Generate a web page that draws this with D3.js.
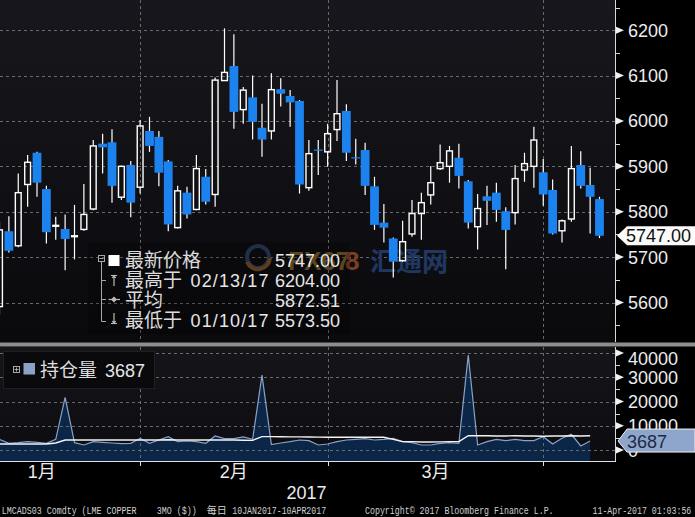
<!DOCTYPE html>
<html><head><meta charset="utf-8">
<script src="https://cdn.jsdelivr.net/npm/d3@7"></script>
<style>
html,body{margin:0;padding:0;background:#000;}
svg{display:block;}
</style></head>
<body>
<svg id="c" width="695" height="517"></svg>
<script>
// ---------------- DATA ----------------
const dates = [
 "2017-01-10","2017-01-11","2017-01-12","2017-01-13","2017-01-16","2017-01-17","2017-01-18","2017-01-19","2017-01-20",
 "2017-01-23","2017-01-24","2017-01-25","2017-01-26","2017-01-27","2017-01-30","2017-01-31",
 "2017-02-01","2017-02-02","2017-02-03","2017-02-06","2017-02-07","2017-02-08","2017-02-09","2017-02-10",
 "2017-02-13","2017-02-14","2017-02-15","2017-02-16","2017-02-17","2017-02-20","2017-02-21","2017-02-22",
 "2017-02-23","2017-02-24","2017-02-27","2017-02-28",
 "2017-03-01","2017-03-02","2017-03-03","2017-03-06","2017-03-07","2017-03-08","2017-03-09","2017-03-10",
 "2017-03-13","2017-03-14","2017-03-15","2017-03-16","2017-03-17","2017-03-20","2017-03-21","2017-03-22",
 "2017-03-23","2017-03-24","2017-03-27","2017-03-28","2017-03-29","2017-03-30","2017-03-31",
 "2017-04-03","2017-04-04","2017-04-05","2017-04-06","2017-04-07","2017-04-10"
];
const open  = [5591,5757,5725,5860,5930,5850,5768,5762,5745,5761,5806,5950,5953,5832,5903,5854,
               5978,5965,5911,5765,5842,5805,5877,5838,6089,6121,6025,6052,5985,5978,6070,6055,6044,5853,5937,5932,
               5981,6022,5920,5936,5856,5776,5741,5692,5751,5796,5837,5895,5900,5919,5867,5767,5834,5842,5801,5798,5892,5900,5887,
               5848,5758,5784,5903,5859,5828];
const high  = [5778,5790,5884,5925,5932,5857,5789,5794,5815,5861,5958,5972,5982,5902,5912,6002,
               6009,5978,5914,5857,5855,5925,5894,6096,6204,6191,6075,6100,6038,6105,6094,6068,6046,5958,5958,5994,
               6090,6037,5961,5952,5877,5817,5743,5780,5826,5842,5901,5948,5945,5950,5870,5839,5857,5864,5810,5903,5930,5987,5916,
               5871,5783,5945,5933,5897,5833];
const low   = [5573.5,5710,5722,5811,5833,5730,5738,5671,5695,5758,5803,5884,5820,5826,5788,5840,
               5932,5856,5757,5763,5785,5803,5816,5811,6088,5983,5994,5959,5921,5959,6032,5987,5840,5846,5881,5899,
               5956,5912,5904,5837,5760,5732,5655,5690,5745,5738,5816,5892,5864,5851,5763,5717,5771,5778,5673,5772,5866,5853,5813,
               5750,5732,5778,5851,5752,5742];
const close = [5760,5714,5842,5909,5864,5755,5770,5740,5747,5794,5945,5942,5857,5900,5820,5989,
               5945,5886,5772,5846,5794,5895,5822,6090,6107,6020,6068,5998,5959,6069,6060,6041,5860,5928,5935,5972,
               6016,5930,5918,5857,5771,5765,5690,5734,5796,5820,5864,5908,5934,5879,5776,5807,5824,5804,5760,5873,5906,5958,5838,
               5752,5780,5895,5857,5833,5747];
// open interest (last trading day not yet reported)
const openInterest = [
  4400,2760,3030,3440,3170,2760,4400,21700,3030,2070,3440,3170,2890,2620,2760,4820,
  2760,4130,5500,3440,3720,3440,2760,5780,4680,4680,5370,4400,30900,2210,2890,3440,4130,3850,2070,2480,
  3440,4130,4400,4680,4130,4400,4820,3440,3030,2070,2070,2760,3030,2760,39100,2070,3440,4400,3850,4400,3850,3850,5500,
  2480,4820,6470,1660,3687];
const oiAverage = [
  2480,2480,2480,2480,2480,2480,2900,
  4130,4130,4130,4100,4100,4130,4130,4100,4130,
  4130,4130,4200,4130,4130,4100,4100,4130,4130,4100,4000,3950,
  5500,5500,5450,5400,5400,5350,5300,5250,5230,5230,5230,5230,5230,5230,
  4400,
  3440,3440,3300,3300,3350,3440,3440,
  5900,5900,5850,5800,5800,5850,5800,5750,5700,5750,5800,5850,5800,5900];
const priceTicks = [5600,5700,5800,5900,6000,6100,6200];
const priceMinorTicks = [5550,5650,5750,5850,5950,6050,6150,6250];
const oiTicks = [0,10000,20000,30000,40000];
const oiMinorTicks = [5000,15000,25000,35000];
const monthEnds = ["2017-01-31","2017-02-28","2017-03-31"];
const monthLabels = ["1月","2月","3月"];
const priorMonthEndOffset = 6; // trading days from 30 Dec 2016 to 10 Jan 2017
const yearLabel = "2017";
const lastPrice = 5747.00;
const lastOI = 3687;
const legendLabels = ["最新价格","最高于","平均","最低于"];
const legendDates  = ["","02/13/17","","01/10/17"];
const legendValues = ["5747.00","6204.00","5872.51","5573.50"];
const oiLegendLabel = "持仓量";

// ---------------- LAYOUT ----------------
const W = 695, H = 517;
const plotRight = 615;
const mainTop = 0, mainBottom = 342;
const lowTop = 347, lowBottom = 461;
const SANS = "'Liberation Sans', Arial, 'Noto Sans CJK SC', sans-serif";
const CJK = "'Noto Sans CJK SC', 'Liberation Sans', sans-serif";
const MONO = "'Liberation Mono', 'Noto Sans CJK SC', monospace";
const BLUE = "#1b82ee";
const GRID = "#696969";

const svg = d3.select("#c");
svg.append("rect").attr("width", W).attr("height", H).attr("fill", "#000");

const defs = svg.append("defs");
function grad(id, c1, c2) {
  const g = defs.append("linearGradient").attr("id", id).attr("x1", 0).attr("y1", 0).attr("x2", 0).attr("y2", 1);
  g.append("stop").attr("offset", "0%").attr("stop-color", c1);
  g.append("stop").attr("offset", "100%").attr("stop-color", c2);
}
grad("gMain", "#17171d", "#0a0a0d");
grad("gLow", "#15151a", "#0b0b10");
defs.append("clipPath").attr("id", "clipMain").append("rect").attr("x", 0).attr("y", mainTop).attr("width", plotRight).attr("height", mainBottom - mainTop);
defs.append("clipPath").attr("id", "clipLow").append("rect").attr("x", 0).attr("y", lowTop).attr("width", plotRight).attr("height", lowBottom - lowTop);

// ---------------- SCALES ----------------
const x = d3.scalePoint().domain(dates).range([-0.5, 599.5]);
const step = x.step();
const yP = d3.scaleLinear().domain([5600, 6200]).range([302.5, 30.2]);
const yOI = d3.scaleLinear().domain([0, 40000]).range([450, 353]);

const gridX = monthEnds.map(d => x(d));
const prevGridX = x(dates[0]) - priorMonthEndOffset * step;
const allGridX = [prevGridX].concat(gridX);

// panels
svg.append("rect").attr("x", 0).attr("y", mainTop).attr("width", plotRight).attr("height", mainBottom - mainTop).attr("fill", "url(#gMain)");
svg.append("rect").attr("x", 0).attr("y", lowTop).attr("width", plotRight).attr("height", lowBottom - lowTop).attr("fill", "url(#gLow)");

// ---------------- MAIN PANEL ----------------
const gMainGrid = svg.append("g").attr("clip-path", "url(#clipMain)");
gMainGrid.selectAll("line.h").data(priceTicks).join("line")
  .attr("x1", 0).attr("x2", plotRight)
  .attr("y1", d => Math.round(yP(d)) + 0.5).attr("y2", d => Math.round(yP(d)) + 0.5)
  .attr("stroke", GRID).attr("stroke-dasharray", "3,3");
gMainGrid.selectAll("line.v").data(gridX).join("line")
  .attr("x1", d => Math.round(d) + 0.5).attr("x2", d => Math.round(d) + 0.5)
  .attr("y1", mainTop).attr("y2", mainBottom)
  .attr("stroke", GRID).attr("stroke-dasharray", "3,3");

// watermark
const wm = svg.append("g");
wm.append("circle").attr("cx", 258).attr("cy", 257).attr("r", 11).attr("fill", "none").attr("stroke", "#2a3c5e").attr("stroke-width", 4);
wm.append("path").attr("d", "M247,262 A12,12 0 0 0 270,258").attr("fill", "none").attr("stroke", "#7a4e26").attr("stroke-width", 4);
wm.append("text").attr("x", 288).attr("y", 270).attr("font-family", SANS).attr("font-weight", "bold").attr("font-size", 26)
  .attr("fill", "#735a2a").text("FX67");
wm.append("text").attr("x", 345).attr("y", 270).attr("font-family", SANS).attr("font-weight", "bold").attr("font-size", 26)
  .attr("fill", "#7e3e22").text("8");
wm.append("text").attr("x", 370).attr("y", 271).attr("font-family", CJK).attr("font-weight", "bold").attr("font-size", 26)
  .attr("fill", "#1f3761").text("汇通网");

// candles
const candles = dates.map((d, i) => ({d, o: open[i], h: high[i], l: low[i], c: close[i]}));
const gC = svg.append("g").attr("clip-path", "url(#clipMain)");
candles.forEach(k => {
  const cx = x(k.d);
  const up = k.c >= k.o;
  const top = yP(Math.max(k.o, k.c)), bot = yP(Math.min(k.o, k.c));
  if (up) {
    gC.append("line").attr("x1", cx).attr("x2", cx).attr("y1", yP(k.h)).attr("y2", top).attr("stroke", "#fff").attr("stroke-width", 1.2);
    gC.append("line").attr("x1", cx).attr("x2", cx).attr("y1", bot).attr("y2", yP(k.l)).attr("stroke", "#fff").attr("stroke-width", 1.2);
    gC.append("rect").attr("x", cx - 2.9).attr("width", 5.8).attr("y", top).attr("height", Math.max(0.6, bot - top))
      .attr("fill", "none").attr("stroke", "#fff").attr("stroke-width", 1.4);
  } else {
    gC.append("line").attr("x1", cx).attr("x2", cx).attr("y1", yP(k.h)).attr("y2", yP(k.l)).attr("stroke", "#fff").attr("stroke-width", 1.2);
    gC.append("rect").attr("x", cx - 4.4).attr("width", 8.8).attr("y", top).attr("height", Math.max(1.2, bot - top))
      .attr("fill", BLUE);
  }
});

// legend (main)
const lg = svg.append("g");
lg.append("rect").attr("x", 88).attr("y", 242).attr("width", 262).attr("height", 92).attr("fill", "#000").attr("opacity", 0.22);
lg.append("rect").attr("x", 98.5).attr("y", 255.5).attr("width", 6).attr("height", 6).attr("fill", "none").attr("stroke", "#a8a8a8");
lg.append("line").attr("x1", 99.5).attr("x2", 103.5).attr("y1", 258.5).attr("y2", 258.5).attr("stroke", "#a8a8a8");
lg.append("path").attr("d", "M101.5,261.5V321.5H106M101.5,280.5H106M101.5,299.5H106").attr("fill", "none").attr("stroke", "#a8a8a8");
const rowBase = [267, 287, 307, 327];
lg.append("rect").attr("x", 108.5).attr("y", 255).attr("width", 11).attr("height", 11).attr("fill", "#fff");
lg.append("path").attr("d", "M111,275.5H117M114,275.5V286M112.3,278L114,275.5L115.7,278").attr("fill", "none").attr("stroke", "#bbb").attr("stroke-width", 1.2);
lg.append("path").attr("d", "M108.5,299.5H120").attr("stroke", "#bbb").attr("stroke-width", 1.2);
lg.append("path").attr("d", "M114,296.5L117,299.5L114,302.5L111,299.5Z").attr("fill", "#bbb");
lg.append("path").attr("d", "M114,313V323.5M111,323.5H117M112.3,321L114,323.5L115.7,321").attr("fill", "none").attr("stroke", "#bbb").attr("stroke-width", 1.2);
legendLabels.forEach((t, i) => {
  lg.append("text").attr("x", 125).attr("y", rowBase[i]).attr("font-family", CJK).attr("font-size", 19).attr("fill", "#dcdcdc").text(t);
  if (legendDates[i]) lg.append("text").attr("x", 190.5).attr("y", rowBase[i]).attr("font-family", SANS).attr("font-size", 18)
      .attr("fill", "#e6e6e6").attr("textLength", 78).attr("lengthAdjust", "spacing").text(legendDates[i]);
  lg.append("text").attr("x", 340).attr("y", rowBase[i]).attr("text-anchor", "end").attr("font-family", SANS).attr("font-size", 18)
    .attr("fill", "#e6e6e6").text(legendValues[i]);
});

// right axis (main)
const ax = svg.append("g");
ax.append("line").attr("x1", plotRight + 0.5).attr("x2", plotRight + 0.5).attr("y1", mainTop).attr("y2", mainBottom).attr("stroke", "#d8d8d8");
ax.selectAll("line.mn").data(priceMinorTicks).join("line")
  .attr("x1", plotRight).attr("x2", plotRight + 5)
  .attr("y1", d => Math.round(yP(d)) + 0.5).attr("y2", d => Math.round(yP(d)) + 0.5).attr("stroke", "#d8d8d8");
ax.selectAll("path.tri").data(priceTicks).join("path")
  .attr("d", d => { const y = yP(d); return `M${plotRight+1},${y-3.5}L${plotRight+9},${y}L${plotRight+1},${y+3.5}Z`; })
  .attr("fill", "#f0f0f0");
ax.selectAll("text").data(priceTicks).join("text")
  .attr("x", 628).attr("y", d => yP(d) + 6.5)
  .attr("font-family", SANS).attr("font-size", 18).attr("fill", "#ececec").text(d => d);
// price tag
{
  const yv = yP(lastPrice);
  ax.append("path").attr("d", `M617,${yv}L627,${yv-9.5}H695V${yv+9.5}H627Z`).attr("fill", "#fafafa");
  ax.append("text").attr("x", 626).attr("y", yv + 6.3).attr("font-family", SANS).attr("font-size", 18).attr("fill", "#111")
    .text(lastPrice.toFixed(2));
}

// separator
svg.append("rect").attr("x", 0).attr("y", 342.5).attr("width", W).attr("height", 4).attr("fill", "#8e8e8e");

// ---------------- LOWER PANEL ----------------
const oiData = openInterest.map((v, i) => ({d: dates[i], v, a: oiAverage[i]}));
const gL = svg.append("g").attr("clip-path", "url(#clipLow)");
gL.append("path").datum(oiData)
  .attr("d", d3.area().x(d => x(d.d)).y0(lowBottom).y1(d => yOI(d.v)))
  .attr("fill", "#0c2647");
gL.selectAll("line.h").data(oiTicks).join("line")
  .attr("x1", 0).attr("x2", plotRight)
  .attr("y1", d => Math.round(yOI(d)) + 0.5).attr("y2", d => Math.round(yOI(d)) + 0.5)
  .attr("stroke", GRID).attr("stroke-dasharray", "3,3");
gL.selectAll("line.v").data(gridX).join("line")
  .attr("x1", d => Math.round(d) + 0.5).attr("x2", d => Math.round(d) + 0.5)
  .attr("y1", lowTop).attr("y2", lowBottom)
  .attr("stroke", GRID).attr("stroke-dasharray", "3,3");
gL.append("path").datum(oiData)
  .attr("d", d3.line().x(d => x(d.d)).y(d => yOI(d.v)))
  .attr("fill", "none").attr("stroke", "#8aa2c6").attr("stroke-width", 1.2);
gL.append("path").datum(oiData)
  .attr("d", d3.line().x(d => x(d.d)).y(d => yOI(d.a)))
  .attr("fill", "none").attr("stroke", "#f4f4f4").attr("stroke-width", 1.4);

// lower legend
const lg2 = svg.append("g");
lg2.append("rect").attr("x", 3.5).attr("y", 351.5).attr("width", 151).attr("height", 37).attr("fill", "#0a0a0c").attr("stroke", "#1f1f25");
lg2.append("rect").attr("x", 13.5).attr("y", 366.5).attr("width", 6).attr("height", 6).attr("fill", "none").attr("stroke", "#a8a8a8");
lg2.append("path").attr("d", "M14.5,369.5H18.5M16.5,367.5V371.5").attr("stroke", "#a8a8a8");
lg2.append("rect").attr("x", 23.5).attr("y", 363).attr("width", 11.5).attr("height", 11.5).attr("fill", "#8aa2c6");
lg2.append("text").attr("x", 40).attr("y", 377).attr("font-family", CJK).attr("font-size", 19).attr("fill", "#dcdcdc").text(oiLegendLabel);
lg2.append("text").attr("x", 105).attr("y", 377).attr("font-family", SANS).attr("font-size", 18).attr("fill", "#e6e6e6").text(lastOI);

// lower right axis
const ax2 = svg.append("g");
ax2.append("line").attr("x1", plotRight + 0.5).attr("x2", plotRight + 0.5).attr("y1", lowTop).attr("y2", lowBottom).attr("stroke", "#d8d8d8");
ax2.selectAll("line.mn").data(oiMinorTicks).join("line")
  .attr("x1", plotRight).attr("x2", plotRight + 5)
  .attr("y1", d => Math.round(yOI(d)) + 0.5).attr("y2", d => Math.round(yOI(d)) + 0.5).attr("stroke", "#d8d8d8");
ax2.selectAll("path.tri").data(oiTicks).join("path")
  .attr("d", d => { const y = yOI(d); return `M${plotRight+1},${y-3.5}L${plotRight+9},${y}L${plotRight+1},${y+3.5}Z`; })
  .attr("fill", "#f0f0f0");
ax2.selectAll("text").data(oiTicks).join("text")
  .attr("x", 628).attr("y", d => Math.max(yOI(d) + 6.5, lowTop + 18))
  .attr("font-family", SANS).attr("font-size", 18).attr("fill", "#ececec").text(d => d);
{
  const yv = yOI(lastOI);
  ax2.append("path").attr("d", `M618,${yv}L627,${yv-12}H695V${yv+11}H627Z`).attr("fill", "#8ea6cc").attr("stroke", "#f0f0f0").attr("stroke-width", 1);
  ax2.append("text").attr("x", 627).attr("y", yv + 7).attr("font-family", SANS).attr("font-size", 18).attr("fill", "#1d2a44").text(lastOI);
}

// x axis
const xa = svg.append("g");
xa.append("line").attr("x1", 0).attr("x2", plotRight + 1).attr("y1", lowBottom + 0.5).attr("y2", lowBottom + 0.5).attr("stroke", "#e0e0e0");
xa.selectAll("line.t").data(gridX).join("line")
  .attr("x1", d => Math.round(d) + 0.5).attr("x2", d => Math.round(d) + 0.5)
  .attr("y1", lowBottom).attr("y2", lowBottom + 5).attr("stroke", "#e0e0e0");
xa.selectAll("text.m").data(monthLabels).join("text")
  .attr("x", (d, i) => (allGridX[i] + allGridX[i + 1]) / 2).attr("y", 478)
  .attr("text-anchor", "middle").attr("font-family", SANS).attr("font-size", 18).attr("fill", "#ececec").text(d => d);
xa.append("text").attr("x", gridX[1] - 1).attr("y", 499).attr("text-anchor", "end")
  .attr("font-family", SANS).attr("font-size", 18).attr("fill", "#ececec").text(yearLabel);

// footer (narrow monospace look: horizontally scaled text)
const footer = [
  {t: "LMCADS03 Comdty (LME COPPER", x: 1.7, w: 135},
  {t: "3MO ($))", x: 156.7, w: 40},
  {t: "每日", x: 206.7, w: 20},
  {t: "10JAN2017-10APR2017", x: 232.3, w: 94},
  {t: "Copyright© 2017 Bloomberg Finance L.P.", x: 365, w: 189},
  {t: "11-Apr-2017 01:03:56", x: 592.5, w: 99}
];
const gf = svg.append("g");
footer.forEach(f => {
  const t = gf.append("text").attr("x", 0).attr("y", 0).attr("font-family", MONO).attr("font-size", 10.5)
    .attr("fill", "#cfcfcf").text(f.t);
  const nat = t.node().getComputedTextLength() || f.w;
  t.attr("transform", `translate(${f.x},514) scale(${f.w / nat},1)`);
});
</script>
</body></html>
